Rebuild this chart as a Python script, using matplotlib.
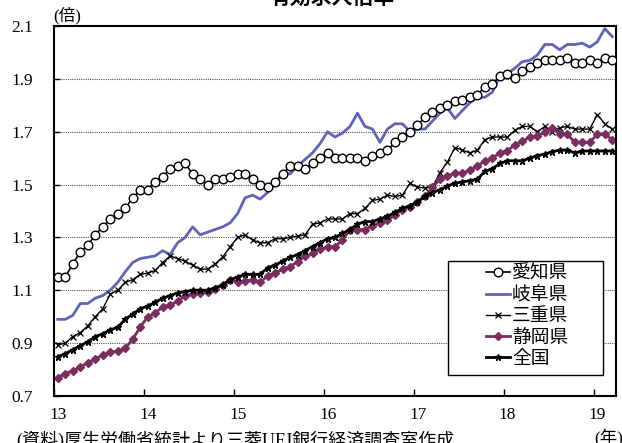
import matplotlib
matplotlib.use('Agg')
import matplotlib.pyplot as plt
from matplotlib.patches import Rectangle
from matplotlib.transforms import ScaledTranslation

# 月次データ 2013年1月～2019年3月（倍）
years = [13, 14, 15, 16, 17, 18, 19]

aichi = [1.15, 1.15, 1.20, 1.245, 1.27, 1.31, 1.34, 1.37, 1.39, 1.41, 1.45, 1.48,
         1.48, 1.51, 1.53, 1.56, 1.57, 1.58, 1.54, 1.52, 1.50, 1.52, 1.52, 1.53,
         1.54, 1.54, 1.52, 1.50, 1.49, 1.51, 1.54, 1.57, 1.57, 1.56, 1.58, 1.60,
         1.62, 1.60, 1.60, 1.60, 1.60, 1.59, 1.61, 1.62, 1.63, 1.66, 1.68, 1.70,
         1.725, 1.755, 1.775, 1.79, 1.80, 1.815, 1.82, 1.83, 1.84, 1.87, 1.88, 1.91,
         1.92, 1.905, 1.93, 1.945, 1.96, 1.97, 1.97, 1.97, 1.98, 1.96, 1.96, 1.97,
         1.96, 1.98, 1.97]

gifu = [0.99, 0.99, 1.005, 1.05, 1.05, 1.07, 1.08, 1.10, 1.13, 1.17, 1.205, 1.22,
        1.225, 1.23, 1.25, 1.235, 1.28, 1.30, 1.34, 1.31, 1.32, 1.33, 1.34, 1.355,
        1.39, 1.45, 1.46, 1.445, 1.47, 1.50, 1.545, 1.54, 1.57, 1.595, 1.62, 1.655,
        1.70, 1.68, 1.695, 1.72, 1.77, 1.72, 1.71, 1.66, 1.71, 1.73, 1.73, 1.70,
        1.71, 1.71, 1.74, 1.77, 1.79, 1.75, 1.78, 1.81, 1.83, 1.83, 1.85, 1.91,
        1.92, 1.94, 1.965, 1.97, 1.99, 2.03, 2.03, 2.01, 2.03, 2.03, 2.035, 2.02,
        2.04, 2.09, 2.06]

mie = [0.893, 0.90, 0.925, 0.94, 0.965, 1.00, 1.03, 1.085, 1.10, 1.13, 1.14, 1.16,
       1.165, 1.175, 1.205, 1.23, 1.22, 1.21, 1.195, 1.18, 1.18, 1.20, 1.225, 1.265,
       1.30, 1.31, 1.29, 1.28, 1.28, 1.295, 1.295, 1.30, 1.305, 1.31, 1.35, 1.355,
       1.37, 1.37, 1.37, 1.39, 1.39, 1.41, 1.44, 1.445, 1.46, 1.455, 1.46, 1.505,
       1.49, 1.487, 1.49, 1.545, 1.585, 1.64, 1.63, 1.62, 1.63, 1.67, 1.68, 1.68,
       1.68, 1.705, 1.72, 1.72, 1.70, 1.72, 1.70, 1.715, 1.72, 1.71, 1.71, 1.71,
       1.765, 1.73, 1.71]

shizuoka = [0.77, 0.785, 0.795, 0.81, 0.825, 0.84, 0.855, 0.865, 0.87, 0.88, 0.915, 0.96,
            1.00, 1.013, 1.038, 1.045, 1.058, 1.08, 1.085, 1.09, 1.092, 1.105, 1.12, 1.14,
            1.132, 1.135, 1.14, 1.13, 1.155, 1.165, 1.18, 1.19, 1.208, 1.228, 1.24, 1.255,
            1.265, 1.265, 1.29, 1.33, 1.33, 1.33, 1.345, 1.355, 1.365, 1.385, 1.405, 1.415,
            1.435, 1.455, 1.49, 1.52, 1.533, 1.543, 1.543, 1.555, 1.57, 1.59, 1.60, 1.62,
            1.628, 1.65, 1.663, 1.68, 1.683, 1.698, 1.713, 1.693, 1.69, 1.66, 1.66, 1.66,
            1.69, 1.69, 1.67]

zenkoku = [0.848, 0.86, 0.875, 0.89, 0.905, 0.925, 0.935, 0.95, 0.96, 0.99, 1.01, 1.03,
           1.04, 1.055, 1.07, 1.08, 1.09, 1.095, 1.10, 1.10, 1.10, 1.11, 1.12, 1.14,
           1.15, 1.16, 1.16, 1.16, 1.185, 1.195, 1.21, 1.225, 1.235, 1.25, 1.265, 1.28,
           1.295, 1.30, 1.315, 1.33, 1.35, 1.36, 1.36, 1.37, 1.38, 1.395, 1.41, 1.42,
           1.435, 1.455, 1.47, 1.48, 1.495, 1.505, 1.51, 1.515, 1.52, 1.55, 1.56, 1.58,
           1.59, 1.59, 1.59, 1.60, 1.61, 1.615, 1.625, 1.63, 1.63, 1.62, 1.627, 1.627,
           1.627, 1.627, 1.627]

labels = ['愛知県', '岐阜県', '三重県', '静岡県', '全国']

FONT = ['Liberation Serif', 'Noto Sans CJK JP']
plt.rcParams['font.family'] = FONT

# 各月はカテゴリの中央に置く
n = len(aichi)
x = [13 + (i + 0.5) / 12 for i in range(n)]

fig = plt.figure(figsize=(6.22, 4.43), dpi=100)
ax = fig.add_axes([54 / 622, 47 / 443, 562 / 622, 370 / 443])

ax.plot(x, aichi, '-o', color='black', lw=1.2, ms=6.2, mfc='white', mec='black', mew=1.0,
        label=labels[0], zorder=3)
ax.plot(x, gifu, '-', color='#5d64b9', lw=2.0, label=labels[1], zorder=2)
ax.plot(x, mie, '-x', color='black', lw=1.0, ms=4.5, mew=0.9, label=labels[2], zorder=2)
ax.plot(x, shizuoka, '-D', color='#7b2d5f', lw=2.0, ms=4.0, label=labels[3], zorder=2)
ax.plot(x, zenkoku, '-*', color='black', lw=2.0, ms=4.5, label=labels[4], zorder=2)

ax.set_xlim(13, 13 + n / 12)
ax.set_ylim(0.7, 2.1)
ax.set_yticks([0.7, 0.9, 1.1, 1.3, 1.5, 1.7, 1.9, 2.1])
ax.set_yticklabels(['0.7', '0.9', '1.1', '1.3', '1.5', '1.7', '1.9', '2.1'])
ax.set_xticks(years)
ax.set_xticklabels([str(y) for y in years])
ax.tick_params(axis='y', direction='in', length=4, width=1, pad=15, labelsize=12.5)
ax.tick_params(axis='x', direction='in', length=5, width=1, pad=8, labelsize=12.5)
shift = ScaledTranslation(4 / 100, 0, fig.dpi_scale_trans)
for t in ax.get_xticklabels():
    t.set_transform(t.get_transform() + shift)

for v in [0.9, 1.1, 1.3, 1.5, 1.7, 1.9]:
    ax.axhline(v, color='#555555', lw=0.8, ls=(0, (1, 1)), zorder=1)

for s in ax.spines.values():
    s.set_linewidth(1.5)
    s.set_color('black')

# 凡例（枠は別に描く）
leg = ax.legend(loc='upper left', bbox_to_anchor=(0.768, 0.353), frameon=False,
                fontsize=13.5, handlelength=1.3, handletextpad=0.1,
                labelspacing=0.22, borderaxespad=0, borderpad=0)
ax.add_patch(Rectangle((0.701, 0.057), 0.275, 0.308, transform=ax.transAxes,
                       facecolor='white', edgecolor='black', lw=1.0, zorder=4))
leg.set_zorder(5)

fig.text(332 / 622, 1 + 1.5 / 443, '有効求人倍率', ha='center', va='center',
         fontsize=15, fontweight='bold')
fig.text(53 / 622, 1 - 16 / 443, '(倍)', ha='left', va='center', fontsize=12)
fig.text(594 / 622, 1 - 437 / 443, '(年)', ha='left', va='center', fontsize=12.5)
fig.text(16 / 622, 1 - 440 / 443, '(資料)厚生労働省統計より三菱UFJ銀行経済調査室作成',
         ha='left', va='center', fontsize=13)

fig.savefig('out.png', dpi=100)
